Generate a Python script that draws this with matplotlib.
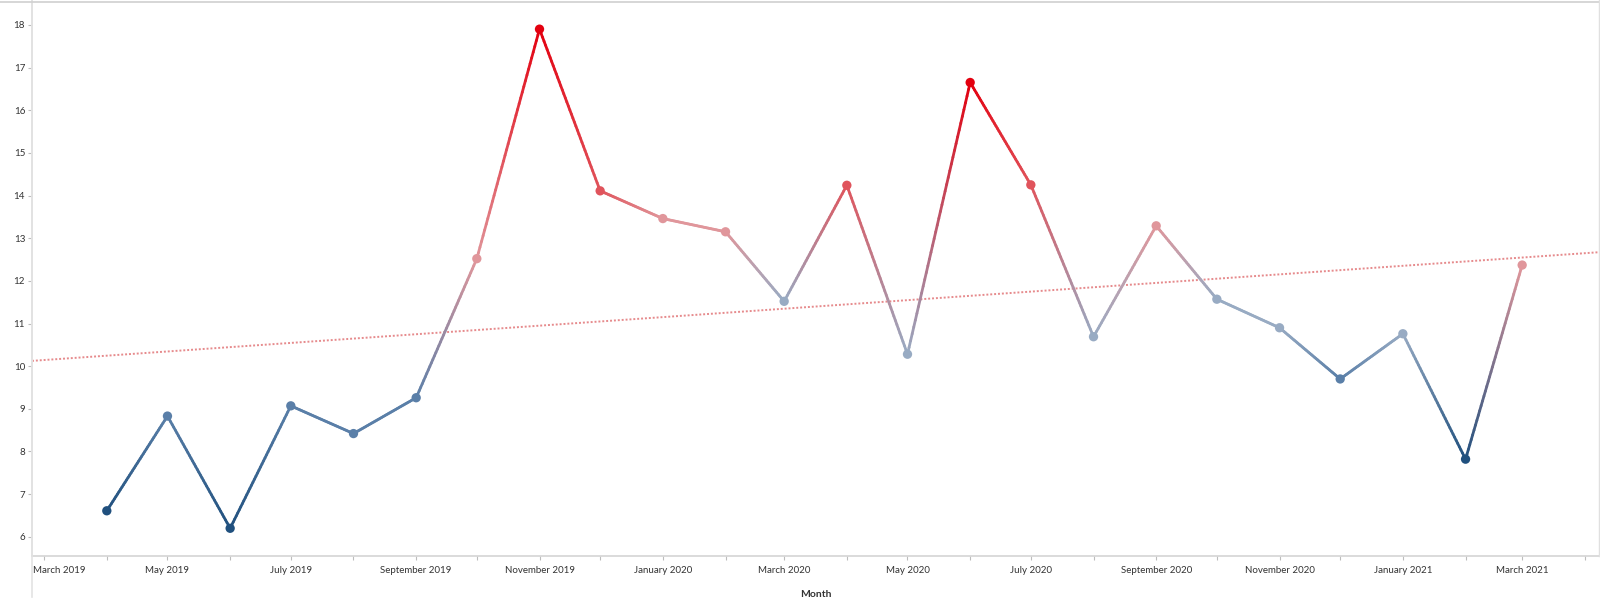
import numpy as np
import matplotlib
matplotlib.use("Agg")
import matplotlib.pyplot as plt
import matplotlib.dates as mdates
import matplotlib.transforms as mtransforms
from matplotlib.collections import LineCollection
from matplotlib.colors import to_rgb
from datetime import date
from matplotlib.lines import Line2D

plt.rcParams['font.family'] = ['Lato', 'DejaVu Sans']

months = [date(2019, 4, 1), date(2019, 5, 1), date(2019, 6, 1), date(2019, 7, 1),
          date(2019, 8, 1), date(2019, 9, 1), date(2019, 10, 1), date(2019, 11, 1),
          date(2019, 12, 1), date(2020, 1, 1), date(2020, 2, 1), date(2020, 3, 1),
          date(2020, 4, 1), date(2020, 5, 1), date(2020, 6, 1), date(2020, 7, 1),
          date(2020, 8, 1), date(2020, 9, 1), date(2020, 10, 1), date(2020, 11, 1),
          date(2020, 12, 1), date(2021, 1, 1), date(2021, 2, 1), date(2021, 3, 1)]
values = [6.61, 8.83, 6.20, 9.07, 8.42, 9.26, 12.52, 17.90, 14.11, 13.46, 13.15, 11.52,
          14.24, 10.28, 16.65, 14.25, 10.69, 13.29, 11.57, 10.90, 9.70, 10.76, 7.82, 12.37]

# stepped diverging palette (blue -> red), 6 steps
palette = ["#20507e", "#5a7fa8", "#98abc3", "#e0969b", "#e0545c", "#e3000f"]

x = mdates.date2num(months)
y = np.array(values)

steps = np.linspace(y.min(), y.max(), len(palette) + 1)
idx = np.clip(np.digitize(y, steps[1:-1]), 0, len(palette) - 1)
pt_colors = np.array([to_rgb(palette[i]) for i in idx])

fig = plt.figure(figsize=(16, 6.09), dpi=100)
ax = fig.add_axes([32 / 1600, 53 / 609, 1567 / 1600, 555 / 609])

# gradient line segments between points
segs = []
cols = []
n_sub = 40
for i in range(len(x) - 1):
    t = np.linspace(0, 1, n_sub + 1)
    xs = x[i] + (x[i + 1] - x[i]) * t
    ys = y[i] + (y[i + 1] - y[i]) * t
    for k in range(n_sub):
        segs.append([(xs[k], ys[k]), (xs[k + 1], ys[k + 1])])
        f = (t[k] + t[k + 1]) / 2
        cols.append(pt_colors[i] * (1 - f) + pt_colors[i + 1] * f)
lc = LineCollection(segs, colors=cols, linewidths=2.0, capstyle='round', zorder=2)
ax.add_collection(lc)

ax.scatter(x, y, s=45, c=pt_colors, zorder=3, linewidths=0)

# linear trend line
xlim = (mdates.date2num(date(2019, 2, 23)), mdates.date2num(date(2021, 4, 8)))
coef = np.polyfit(x, y, 1)
tx = np.array(xlim)
ax.plot(tx, np.polyval(coef, tx), linestyle=(0, (1, 1)), color="#e68a8c",
        linewidth=1.4, zorder=1)

ax.set_xlim(xlim)
ax.set_ylim(5.55, 18.56)

ax.set_yticks(range(6, 19))
ax.xaxis.set_major_locator(mdates.MonthLocator(bymonth=[1, 3, 5, 7, 9, 11]))
ax.xaxis.set_minor_locator(mdates.MonthLocator())
ax.xaxis.set_major_formatter(mdates.DateFormatter("%B %Y"))

ax.tick_params(axis='both', which='both', length=3, width=0.8, color="#bdbdbd",
               labelsize=7, labelcolor="#333333", pad=2)
ax.tick_params(axis='x', which='major', pad=4)

for s in ['top', 'right']:
    ax.spines[s].set_visible(False)
ax.spines['left'].set_color("#d9d9d9")
ax.spines['bottom'].set_color("#d4d4d4")
ax.spines['left'].set_linewidth(1.2)
ax.spines['bottom'].set_linewidth(1.2)

ax.set_xlabel("Month", fontsize=7.5, fontweight='bold', color="#333333", labelpad=11)

# first month label is pushed inside the pane, as Tableau does
fig.canvas.draw()
first = ax.get_xticklabels()[0]
first.set_horizontalalignment('left')
first.set_transform(first.get_transform() +
                    mtransforms.ScaledTranslation(-0.11, 0, fig.dpi_scale_trans))

# frame lines from the dashboard
fig.add_artist(Line2D([32 / 1600, 32 / 1600], [12 / 609, 1], color="#e3e3e3", linewidth=1.2))
fig.add_artist(Line2D([0, 1], [607.5 / 609, 607.5 / 609], color="#d0d0d0", linewidth=1.2))
fig.add_artist(Line2D([1599 / 1600, 1599 / 1600], [53 / 609, 1], color="#e0e0e0", linewidth=1.0))

fig.savefig("out.png", dpi=100, facecolor="white")
